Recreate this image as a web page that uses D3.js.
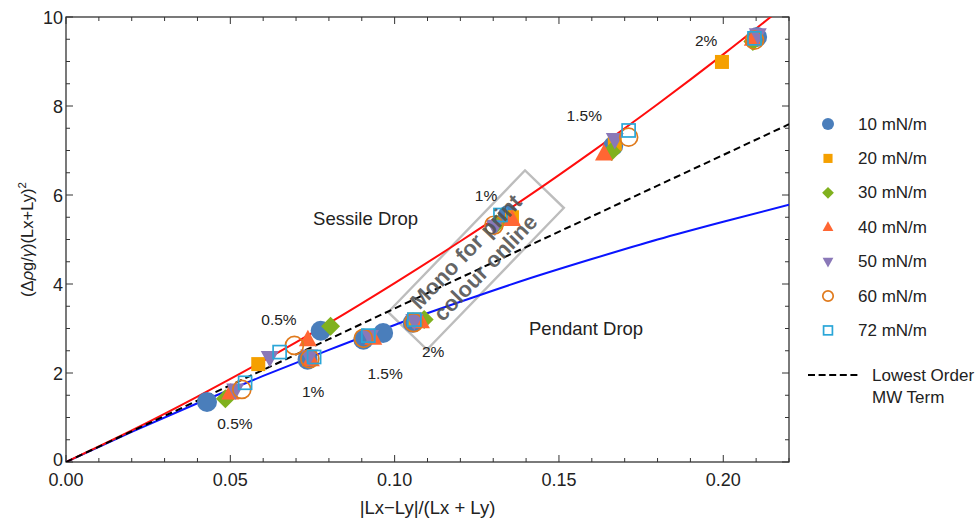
<!DOCTYPE html>
<html><head><meta charset="utf-8">
<script src="https://cdn.jsdelivr.net/npm/d3@7"></script>
<style>body{margin:0;background:#fff;}svg{font-family:"Liberation Sans",Arial,sans-serif;}</style>
</head><body><svg id="c" width="980" height="521"></svg>
<script>
// ---- data ----
const seriesNames = ["10 mN/m","20 mN/m","30 mN/m","40 mN/m","50 mN/m","60 mN/m","72 mN/m"];
const s10 = [[0.0429,1.35],[0.0735,2.30],[0.0775,2.95],[0.0905,2.75],[0.0965,2.90],[0.1055,3.13],[0.1345,5.55],[0.1665,7.10],[0.2103,9.55]];
const s20 = [[0.0585,2.20],[0.1060,3.20],[0.1357,5.50],[0.1670,7.15],[0.1996,8.99]];
const s30 = [[0.0485,1.42],[0.0805,3.05],[0.1090,3.20],[0.1310,5.35],[0.1660,6.98],[0.2090,9.45]];
const s40 = [[0.0500,1.55],[0.0736,2.75],[0.0745,2.30],[0.0935,2.78],[0.1080,3.15],[0.1357,5.45],[0.1637,6.92],[0.2090,9.50]];
const s50 = [[0.0515,1.62],[0.0620,2.35],[0.0740,2.38],[0.0925,2.82],[0.1060,3.18],[0.1305,5.30],[0.1670,7.25],[0.2105,9.60]];
const s60 = [[0.0535,1.63],[0.0695,2.62],[0.0742,2.32],[0.0905,2.78],[0.1058,3.13],[0.1302,5.32],[0.1712,7.30],[0.2095,9.48]];
const s72 = [[0.0545,1.78],[0.0650,2.47],[0.0755,2.36],[0.0920,2.84],[0.1060,3.20],[0.1322,5.55],[0.1712,7.45],[0.2095,9.52]];
const seriesData = [s10,s20,s30,s40,s50,s60,s72];
const curveX = [0,0.02,0.04,0.06,0.08,0.10,0.12,0.14,0.16,0.18,0.20,0.22];
const sessileY = [0,0.71,1.47,2.27,3.12,4.02,4.96,5.94,6.97,8.04,9.16,10.33];
const pendantY = [0,0.675,1.32,1.935,2.52,3.08,3.60,4.10,4.56,5.00,5.40,5.78];
const lowestOrderY = [0,0.69,1.38,2.07,2.76,3.45,4.14,4.83,5.52,6.21,6.90,7.59];
const xTicks = [0,0.05,0.10,0.15,0.20];
const yTicks = [0,2,4,6,8,10];
const pctLabels = [
  {t:"2%",x:0.1948,y:9.35},{t:"1.5%",x:0.1577,y:7.66},{t:"1%",x:0.1278,y:5.87},{t:"0.5%",x:0.0648,y:3.08},
  {t:"0.5%",x:0.0514,y:0.74},{t:"1%",x:0.0752,y:1.46},{t:"1.5%",x:0.0971,y:1.87},{t:"2%",x:0.1117,y:2.37}];
// ---- layout ----
const L=66,R=789,T=17,B=462;
const x=d3.scaleLinear().domain([0,0.22]).range([L,R]);
const y=d3.scaleLinear().domain([0,10]).range([B,T]);
const colors=["#4A7EBB","#F5A000","#80B11E","#FF6633","#8A78B8","#E07A1C","#2AA6D8"];
const svg=d3.select("#c");
const defs=svg.append("defs");
defs.append("clipPath").attr("id","clip").append("rect").attr("x",L).attr("y",T).attr("width",R-L).attr("height",B-T);

// frame
svg.append("rect").attr("x",L).attr("y",T).attr("width",R-L).attr("height",B-T).attr("fill","none").attr("stroke","#222").attr("stroke-width",1.2);
// ticks
const tk=svg.append("g").attr("stroke","#333").attr("stroke-width",1);
d3.range(0,0.2201,0.01).forEach(v=>{
  const major=Math.abs(v/0.05-Math.round(v/0.05))<1e-6; const len=major?7:4;
  tk.append("line").attr("x1",x(v)).attr("x2",x(v)).attr("y1",B).attr("y2",B-len);
  tk.append("line").attr("x1",x(v)).attr("x2",x(v)).attr("y1",T).attr("y2",T+len);
});
d3.range(0,10.01,0.5).forEach(v=>{
  const major=Math.abs(v/2-Math.round(v/2))<1e-6; const len=major?7:4;
  tk.append("line").attr("y1",y(v)).attr("y2",y(v)).attr("x1",L).attr("x2",L+len);
  tk.append("line").attr("y1",y(v)).attr("y2",y(v)).attr("x1",R).attr("x2",R-len);
});
// tick labels
svg.append("g").selectAll("text").data(xTicks).join("text").attr("x",d=>x(d)).attr("y",B+24).attr("text-anchor","middle").attr("font-size",18).attr("fill","#222").text(d=>d3.format(".2f")(d));
svg.append("g").selectAll("text").data(yTicks).join("text").attr("x",L-3).attr("y",d=>y(d)+(d===0?4:6.5)).attr("text-anchor","end").attr("font-size",18).attr("fill","#222").text(d=>d);
// axis titles
svg.append("text").attr("x",(L+R)/2).attr("y",514).attr("text-anchor","middle").attr("font-size",18.5).attr("fill","#222").text("|Lx−Ly|/(Lx + Ly)");
const yt=svg.append("text").attr("transform",`translate(33,${(T+B)/2}) rotate(-90)`).attr("text-anchor","middle").attr("font-size",16.5).attr("fill","#222");
yt.append("tspan").text("(Δ");yt.append("tspan").attr("font-style","italic").text("ρ");yt.append("tspan").text("g/");
yt.append("tspan").attr("font-style","italic").text("γ");yt.append("tspan").text(")(Lx+Ly)");
yt.append("tspan").attr("font-size",11.5).attr("dy",-7).text("2");

// watermark box
const wm=svg.append("g").attr("transform","translate(476,260) rotate(-46)");
wm.append("rect").attr("x",-98.5).attr("y",-27).attr("width",197).attr("height",54).attr("fill","none").attr("stroke","#bdbdbd").attr("stroke-width",2.4);

// curves
const line=d3.line().x(d=>x(d[0])).y(d=>y(d[1])).curve(d3.curveMonotoneX);
const cg=svg.append("g").attr("clip-path","url(#clip)");
cg.append("path").datum(curveX.map((v,i)=>[v,pendantY[i]])).attr("d",line).attr("fill","none").attr("stroke","#0a14ff").attr("stroke-width",2);
cg.append("path").datum(curveX.map((v,i)=>[v,sessileY[i]])).attr("d",line).attr("fill","none").attr("stroke","#ff0d0d").attr("stroke-width",2);
cg.append("path").datum(curveX.map((v,i)=>[v,lowestOrderY[i]])).attr("d",line).attr("fill","none").attr("stroke","#000").attr("stroke-width",2).attr("stroke-dasharray","7,4");

// markers
function drawMarker(g,k,cx,cy,sc){
  const c=colors[k];
  if(k===0) g.append("circle").attr("cx",cx).attr("cy",cy).attr("r",10*sc).attr("fill",c);
  else if(k===1) g.append("rect").attr("x",cx-7*sc).attr("y",cy-7*sc).attr("width",14*sc).attr("height",14*sc).attr("fill",c);
  else if(k===2) g.append("path").attr("d",`M${cx},${cy-9.5*sc}L${cx+9.5*sc},${cy}L${cx},${cy+9.5*sc}L${cx-9.5*sc},${cy}Z`).attr("fill",c);
  else if(k===3) g.append("path").attr("d",`M${cx},${cy-10*sc}L${cx+9*sc},${cy+6.5*sc}L${cx-9*sc},${cy+6.5*sc}Z`).attr("fill",c);
  else if(k===4) g.append("path").attr("d",`M${cx},${cy+10*sc}L${cx+9*sc},${cy-6.5*sc}L${cx-9*sc},${cy-6.5*sc}Z`).attr("fill",c);
  else if(k===5) g.append("circle").attr("cx",cx).attr("cy",cy).attr("r",9*sc).attr("fill","none").attr("stroke",c).attr("stroke-width",1.7);
  else if(k===6) g.append("rect").attr("x",cx-6.5*sc).attr("y",cy-6.5*sc).attr("width",13*sc).attr("height",13*sc).attr("fill","none").attr("stroke",c).attr("stroke-width",1.7);
}
const mg=svg.append("g");
seriesData.forEach((arr,k)=>arr.forEach(p=>drawMarker(mg,k,x(p[0]),y(p[1]),1)));

// labels
svg.append("g").selectAll("text").data(pctLabels).join("text").attr("x",d=>x(d.x)).attr("y",d=>y(d.y)).attr("text-anchor","middle").attr("font-size",15.5).attr("fill","#222").text(d=>d.t);
svg.append("text").attr("x",418).attr("y",225).attr("text-anchor","end").attr("font-size",18.5).attr("fill","#222").text("Sessile Drop");
svg.append("text").attr("x",529).attr("y",335).attr("text-anchor","start").attr("font-size",18.5).attr("fill","#222").text("Pendant Drop");

// watermark text
const wt=svg.append("g").attr("transform","translate(476,260) rotate(-46)").attr("fill","#505050").attr("fill-opacity",0.88).attr("font-weight","bold").attr("font-size",22).attr("text-anchor","middle");
wt.append("text").attr("x",-1).attr("y",-5.5).text("Mono for print");
wt.append("text").attr("x",1).attr("y",19.5).text("colour online");

// legend
const lg=svg.append("g");
seriesNames.forEach((n,k)=>{
  const cy=124+k*34.4;
  const sc = [0.6,0.65,0.62,0.6,0.6,0.58,0.68][k];
  drawMarker(lg,k,828,cy,sc);
  lg.append("text").attr("x",858).attr("y",cy+5.5).attr("font-size",17).attr("fill","#222").text(n);
});
lg.append("line").attr("x1",808).attr("x2",858).attr("y1",375).attr("y2",375).attr("stroke","#000").attr("stroke-width",2).attr("stroke-dasharray","7,3.6");
lg.append("text").attr("x",872).attr("y",381).attr("font-size",17).attr("fill","#222").text("Lowest Order");
lg.append("text").attr("x",872).attr("y",403).attr("font-size",17).attr("fill","#222").text("MW Term");
</script></body></html>
